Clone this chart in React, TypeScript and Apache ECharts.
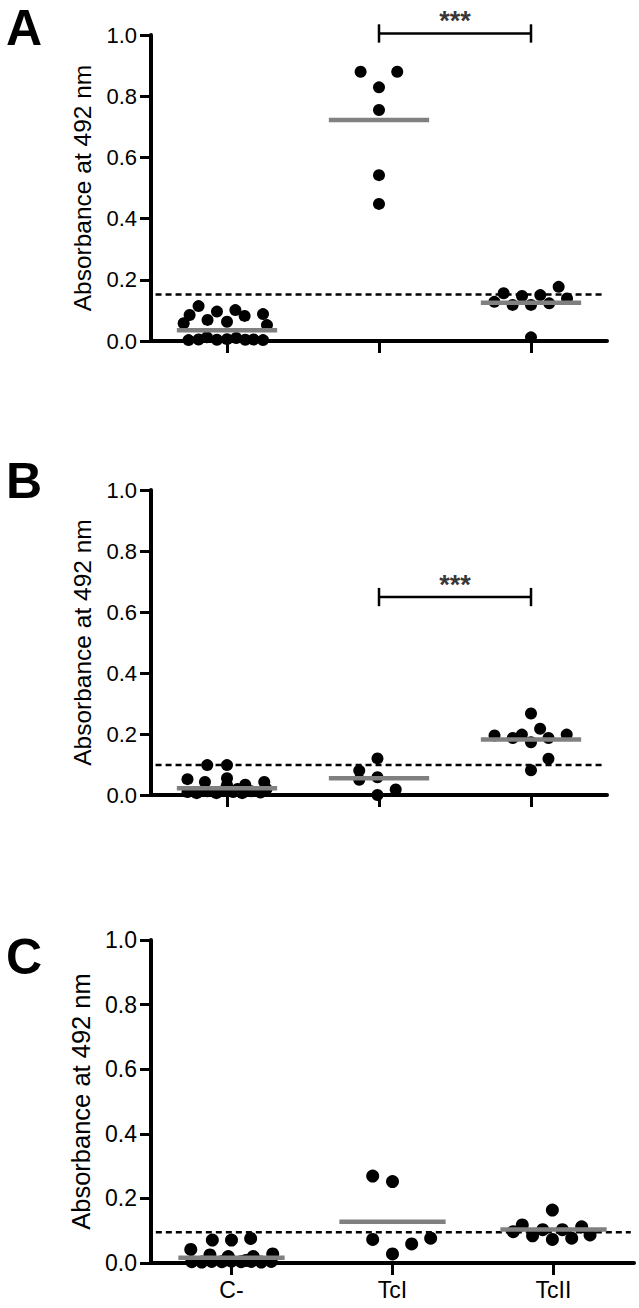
import React, { useEffect, useRef } from "react";
import * as echarts from "echarts";

// ---------- data ----------
const categories = ["C-", "TcI", "TcII"];
const yMin = 0;
const yMax = 1.0;
const yStep = 0.2;
const yAxisTitle = "Absorbance at 492 nm";
const panelLetters = ["A", "B", "C"];

// points: [offset within category (category units), absorbance]
const aCneg: [number, number][] = [
  [-0.285, 0.058], [-0.246, 0.085], [-0.187, 0.114], [-0.128, 0.069], [-0.066, 0.096],
  [0, 0.063], [0.055, 0.101], [0.116, 0.082], [0.237, 0.088], [0.263, 0.052],
  [-0.253, 0.003], [-0.187, 0.005], [-0.132, 0.012], [-0.066, 0.004], [0, 0.006],
  [0.061, 0.01], [0.12, 0.004], [0.175, 0.005], [0.237, 0.003],
];
const aTcI: [number, number][] = [
  [-0.121, 0.88], [0.12, 0.88], [0, 0.829], [0, 0.755], [0, 0.542], [0, 0.448],
];
const aTcII: [number, number][] = [
  [-0.18, 0.156], [-0.241, 0.128], [-0.121, 0.118], [-0.059, 0.147], [0, 0.118],
  [0.061, 0.15], [0.12, 0.123], [0.182, 0.177], [0.237, 0.139], [0, 0.012],
];
const meansA = [0.035, 0.722, 0.125];

const bCneg: [number, number][] = [
  [-0.26, 0.052], [-0.13, 0.098], [0, 0.098], [-0.145, 0.043], [0, 0.055],
  [0, 0.033], [0.12, 0.034], [0.245, 0.043],
  [-0.26, 0.01], [-0.2, 0.006], [-0.13, 0.012], [-0.07, 0.006], [-0.02, 0.015],
  [0.04, 0.01], [0.1, 0.006], [0.16, 0.012], [0.22, 0.008], [0.26, 0.02], [0.07, 0.02],
];
const bTcI: [number, number][] = [
  [-0.13, 0.08], [-0.13, 0.05], [-0.01, 0.12], [-0.01, 0.058], [-0.01, 0.0], [0.11, 0.018],
];
const bTcII: [number, number][] = [
  [0, 0.267], [0.06, 0.217], [-0.24, 0.195], [-0.12, 0.187], [-0.06, 0.198],
  [0, 0.173], [0.115, 0.187], [0.235, 0.198], [0.115, 0.119], [0, 0.081],
];
const meansB = [0.022, 0.055, 0.182];

const cCneg: [number, number][] = [
  [-0.253, 0.042], [-0.119, 0.071], [0, 0.071], [0.119, 0.076], [-0.134, 0.025],
  [-0.02, 0.02], [0.135, 0.02], [0.256, 0.028],
  [-0.247, 0.004], [-0.185, 0.003], [-0.123, 0.005], [-0.06, 0.004], [0, 0.006],
  [0.06, 0.004], [0.123, 0.005], [0.185, 0.003], [0.247, 0.005], [-0.03, 0.01], [0.09, 0.008],
];
const cTcI: [number, number][] = [
  [-0.123, 0.269], [0, 0.252], [-0.123, 0.073], [0.119, 0.059], [0.237, 0.077], [0, 0.028],
];
const cTcII: [number, number][] = [
  [-0.007, 0.164], [-0.194, 0.118], [-0.25, 0.097], [-0.13, 0.084], [-0.067, 0.103],
  [-0.007, 0.073], [0.055, 0.103], [0.113, 0.077], [0.175, 0.112], [0.227, 0.087],
];
const meansC = [0.016, 0.128, 0.104];

const cutoffs = [0.152, 0.098, 0.095];
// significance brackets
const bracketA = { from: 1, to: 2, y: 1.005, labelY: 1.045, text: "***" };
const bracketB = { from: 1, to: 2, y: 0.649, labelY: 0.69, text: "***" };

// ---------- layout / style ----------
const FONT = '"Liberation Sans", Arial, Helvetica, sans-serif';
const layouts = [
  { left: 151, top: 35, width: 456, height: 306, dot: 12, fs: 22, nameFs: 24.5, letterY: 28, showLabels: false },
  { left: 151, top: 490, width: 456, height: 305, dot: 12, fs: 22, nameFs: 24.5, letterY: 481, showLabels: false },
  { left: 151, top: 940, width: 483, height: 323, dot: 13, fs: 23, nameFs: 25.5, letterY: 957, showLabels: true },
];

const panels = [
  { groups: [aCneg, aTcI, aTcII], means: meansA, cutoff: cutoffs[0], bracket: bracketA },
  { groups: [bCneg, bTcI, bTcII], means: meansB, cutoff: cutoffs[1], bracket: bracketB },
  { groups: [cCneg, cTcI, cTcII], means: meansC, cutoff: cutoffs[2], bracket: null as any },
];

function buildOption() {
  const grid: any[] = [];
  const xAxis: any[] = [];
  const yAxis: any[] = [];
  const series: any[] = [];
  const graphic: any[] = [];

  panels.forEach((p, i) => {
    const L = layouts[i];
    grid.push({ left: L.left, top: L.top, width: L.width, height: L.height, containLabel: false });
    xAxis.push({
      type: "category",
      gridIndex: i,
      data: categories,
      boundaryGap: true,
      axisLine: { show: true, onZero: false, lineStyle: { color: "#000", width: 4 } },
      axisTick: { show: true, alignWithLabel: true, length: 12, lineStyle: { color: "#000", width: 3 } },
      axisLabel: { show: L.showLabels, color: "#000", fontSize: 23, fontFamily: FONT, margin: 15 },
      splitLine: { show: false },
    });
    xAxis.push({ type: "value", gridIndex: i, min: -0.5, max: 2.5, show: false });
    yAxis.push({
      type: "value",
      gridIndex: i,
      min: yMin,
      max: yMax,
      interval: yStep,
      name: yAxisTitle,
      nameLocation: "middle",
      nameGap: 56,
      nameTextStyle: { color: "#000", fontSize: L.nameFs, fontFamily: FONT },
      axisLine: { show: true, onZero: false, lineStyle: { color: "#000", width: 4 } },
      axisTick: { show: true, length: 11, lineStyle: { color: "#000", width: 3 } },
      axisLabel: {
        color: "#000",
        fontSize: L.fs,
        fontFamily: FONT,
        margin: 14,
        formatter: (v: number) => v.toFixed(1),
      },
      splitLine: { show: false },
    });

    const xi = i * 2 + 1;
    series.push({
      type: "line",
      xAxisIndex: xi,
      yAxisIndex: i,
      data: [[-0.47, p.cutoff], [2.48, p.cutoff]],
      symbol: "none",
      silent: true,
      z: 2,
      lineStyle: { color: "#000", width: 2.5, type: [6, 4] },
    });
    p.groups.forEach((g, gi) => {
      series.push({
        type: "scatter",
        xAxisIndex: xi,
        yAxisIndex: i,
        data: g.map(([o, v]) => [gi + o, v]),
        symbol: "circle",
        symbolSize: L.dot,
        clip: false,
        z: 3,
        itemStyle: { color: "#000", opacity: 1 },
      });
    });
    p.means.forEach((m, gi) => {
      series.push({
        type: "line",
        xAxisIndex: xi,
        yAxisIndex: i,
        data: [[gi - 0.33, m], [gi + 0.33, m]],
        symbol: "none",
        silent: true,
        z: 4,
        lineStyle: { color: "#808080", width: 4.5, opacity: 1 },
      });
    });
    const b = p.bracket;
    if (b) {
      const cap = 0.03;
      const segs = [
        [[b.from, b.y], [b.to, b.y]],
        [[b.from, b.y - cap], [b.from, b.y + cap]],
        [[b.to, b.y - cap], [b.to, b.y + cap]],
      ];
      segs.forEach((d) =>
        series.push({
          type: "line",
          xAxisIndex: xi,
          yAxisIndex: i,
          data: d,
          symbol: "none",
          clip: false,
          silent: true,
          z: 4,
          lineStyle: { color: "#000", width: 2.5, cap: "butt" },
        })
      );
      series.push({
        type: "scatter",
        xAxisIndex: xi,
        yAxisIndex: i,
        data: [[(b.from + b.to) / 2, b.labelY]],
        symbolSize: 1,
        clip: false,
        silent: true,
        itemStyle: { color: "rgba(0,0,0,0)" },
        label: {
          show: true,
          position: "inside",
          formatter: b.text,
          color: "#000",
          fontSize: 27,
          fontWeight: "bold",
          fontFamily: FONT,
        },
      });
    }
    graphic.push({
      type: "text",
      x: 6,
      y: L.letterY,
      style: {
        text: panelLetters[i],
        fill: "#000",
        font: `bold 50px ${FONT}`,
        textAlign: "left",
        textVerticalAlign: "middle",
      },
    });
  });

  return { animation: false, backgroundColor: "#fff", grid, xAxis, yAxis, series, graphic };
}

export default function App() {
  const ref = useRef<HTMLDivElement>(null);
  useEffect(() => {
    if (!ref.current) return;
    const chart = echarts.init(ref.current, null, { renderer: "svg" });
    chart.setOption(buildOption() as any);
    return () => chart.dispose();
  }, []);
  return (
    <div
      ref={ref}
      style={{ position: "absolute", left: 0, top: 0, width: 639, height: 1308, background: "#fff" }}
    />
  );
}
